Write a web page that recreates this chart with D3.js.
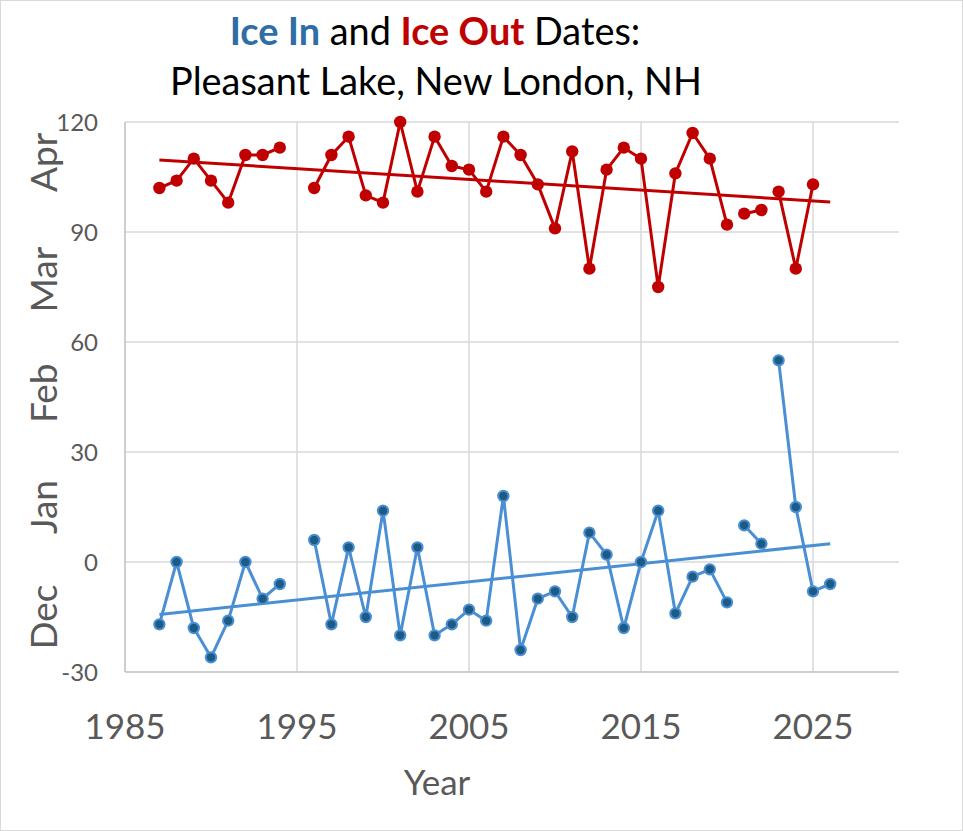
<!DOCTYPE html>
<html>
<head>
<meta charset="utf-8">
<script src="https://cdn.jsdelivr.net/npm/d3@7"></script>
<style>
  html, body { margin: 0; padding: 0; background: #fff; }
  svg { display: block; }
  text { font-family: Lato, "Open Sans", sans-serif; }
</style>
</head>
<body>
<svg id="chart" width="963" height="831"></svg>
<script>
// ---------------- data ----------------
const years = [1987,1988,1989,1990,1991,1992,1993,1994,1995,1996,1997,1998,1999,2000,
               2001,2002,2003,2004,2005,2006,2007,2008,2009,2010,2011,2012,2013,2014,
               2015,2016,2017,2018,2019,2020,2021,2022,2023,2024,2025,2026];
// Ice Out: day of year (null = no record)
const iceOut = [102,104,110,104,98,111,111,113,null,102,111,116,100,98,
                120,101,116,108,107,101,116,111,103,91,112,80,107,113,
                110,75,106,117,110,92,95,96,101,80,103,null];
// Ice In: days relative to Jan 1 (null = no record)
const iceIn = [-17,0,-18,-26,-16,0,-10,-6,null,6,-17,4,-15,14,
               -20,4,-20,-17,-13,-16,18,-24,-10,-8,-15,8,2,-18,
               0,14,-14,-4,-2,-11,10,5,55,15,-8,-6];
// the plotted line restarts at these years
const segmentStarts = [2021, 2023];

const xTicks = [1985, 1995, 2005, 2015, 2025];
const xDomain = [1985, 2030];
const yTicks = [-30, 0, 30, 60, 90, 120];
const yDomain = [-30, 120];
const monthLabels = ["Dec", "Jan", "Feb", "Mar", "Apr"];
const monthLabelPos = [-15, 15, 46, 77, 109];

// ---------------- layout ----------------
const W = 963, H = 831;
const plot = { left: 125, right: 899, top: 122, bottom: 672 };
const svg = d3.select("#chart");

const x = d3.scaleLinear().domain(xDomain).range([plot.left, plot.right]);
const y = d3.scaleLinear().domain(yDomain).range([plot.bottom, plot.top]);

const RED = "#C00000";
const BLUE_LINE = "#4A8FD3";
const BLUE_FILL = "#1C5B86";
const TITLE_BLUE = "#2E6DA5";
const AXIS_TEXT = "#595959";
const GRID = "#D9D9D9";

// chart border
svg.append("rect").attr("x", 0.5).attr("y", 0.5).attr("width", W - 1).attr("height", H - 1)
  .attr("fill", "#fff").attr("stroke", "#D9D9D9");

// gridlines
const g = svg.append("g");
g.selectAll(".hg").data(yTicks.filter(t => t > yDomain[0])).join("line")
  .attr("x1", plot.left).attr("x2", plot.right)
  .attr("y1", d => y(d)).attr("y2", d => y(d))
  .attr("stroke", GRID).attr("stroke-width", 1.5);
g.selectAll(".vg").data(xTicks.filter(t => t > xDomain[0])).join("line")
  .attr("x1", d => x(d)).attr("x2", d => x(d))
  .attr("y1", plot.top).attr("y2", plot.bottom)
  .attr("stroke", GRID).attr("stroke-width", 1.5);

// axes lines
svg.append("line").attr("x1", plot.left).attr("x2", plot.left)
  .attr("y1", plot.top).attr("y2", plot.bottom).attr("stroke", "#BFBFBF").attr("stroke-width", 1.5);
svg.append("line").attr("x1", plot.left).attr("x2", plot.right)
  .attr("y1", plot.bottom).attr("y2", plot.bottom).attr("stroke", "#BFBFBF").attr("stroke-width", 1.5);

// axis tick labels
svg.append("g").selectAll("text").data(yTicks).join("text")
  .attr("x", 98).attr("y", d => y(d)).attr("dy", "0.36em")
  .attr("text-anchor", "end").attr("font-size", 24).attr("fill", AXIS_TEXT)
  .text(d => d);
svg.append("g").selectAll("text").data(xTicks).join("text")
  .attr("x", d => x(d)).attr("y", 739)
  .attr("text-anchor", "middle").attr("font-size", 35).attr("fill", AXIS_TEXT)
  .text(d => d);
svg.append("text").attr("x", 437).attr("y", 795).attr("text-anchor", "middle")
  .attr("font-size", 35).attr("fill", AXIS_TEXT).text("Year");

// month labels (rotated)
svg.append("g").selectAll("text").data(monthLabels).join("text")
  .attr("transform", (d, i) => `translate(57,${y(monthLabelPos[i])}) rotate(-90)`)
  .attr("text-anchor", "middle").attr("font-size", 37).attr("fill", AXIS_TEXT)
  .text(d => d);

// ---------------- series ----------------
function segments(vals) {
  const segs = [];
  let cur = [];
  years.forEach((yr, i) => {
    const v = vals[i];
    if (v == null || segmentStarts.includes(yr)) {
      if (cur.length) segs.push(cur);
      cur = [];
    }
    if (v != null) cur.push({ yr, v });
  });
  if (cur.length) segs.push(cur);
  return segs;
}
function trend(vals) {
  const pts = years.map((yr, i) => ({ yr, v: vals[i] })).filter(d => d.v != null);
  const mx = d3.mean(pts, d => d.yr), my = d3.mean(pts, d => d.v);
  const b = d3.sum(pts, d => (d.yr - mx) * (d.v - my)) / d3.sum(pts, d => (d.yr - mx) ** 2);
  const a = my - b * mx;
  const ext = d3.extent(years);
  return ext.map(yr => ({ yr, v: a + b * yr }));
}
const line = d3.line().x(d => x(d.yr)).y(d => y(d.v));

function drawSeries(vals, color, fill, stroke, r, sw) {
  const gs = svg.append("g");
  gs.selectAll("path").data(segments(vals)).join("path")
    .attr("d", line).attr("fill", "none").attr("stroke", color)
    .attr("stroke-width", 3).attr("stroke-linejoin", "round");
  gs.append("path").datum(trend(vals)).attr("d", line)
    .attr("fill", "none").attr("stroke", color).attr("stroke-width", 3);
  gs.selectAll("circle").data(years.map((yr, i) => ({ yr, v: vals[i] })).filter(d => d.v != null))
    .join("circle").attr("cx", d => x(d.yr)).attr("cy", d => y(d.v)).attr("r", r)
    .attr("fill", fill).attr("stroke", stroke).attr("stroke-width", sw);
}
drawSeries(iceOut, RED, RED, "none", 6.2, 0);
drawSeries(iceIn, BLUE_LINE, BLUE_FILL, BLUE_LINE, 5.2, 2);

// ---------------- title ----------------
const title = svg.append("g").attr("font-size", 36);
const t1 = title.append("text").attr("x", 435).attr("y", 45).attr("text-anchor", "middle").attr("fill", "#000");
t1.append("tspan").attr("fill", TITLE_BLUE).attr("font-weight", "bold").text("Ice In");
t1.append("tspan").text(" and ");
t1.append("tspan").attr("fill", RED).attr("font-weight", "bold").text("Ice Out");
t1.append("tspan").text(" Dates:");
const t2 = title.append("text").attr("x", 436).attr("y", 95).attr("text-anchor", "middle")
  .attr("fill", "#000").text("Pleasant Lake, New London, NH");
// fit title widths to reference proportions
const w2 = t2.node().getComputedTextLength();
const fs = 36 * 532 / w2;
title.attr("font-size", fs);
</script>
</body>
</html>
